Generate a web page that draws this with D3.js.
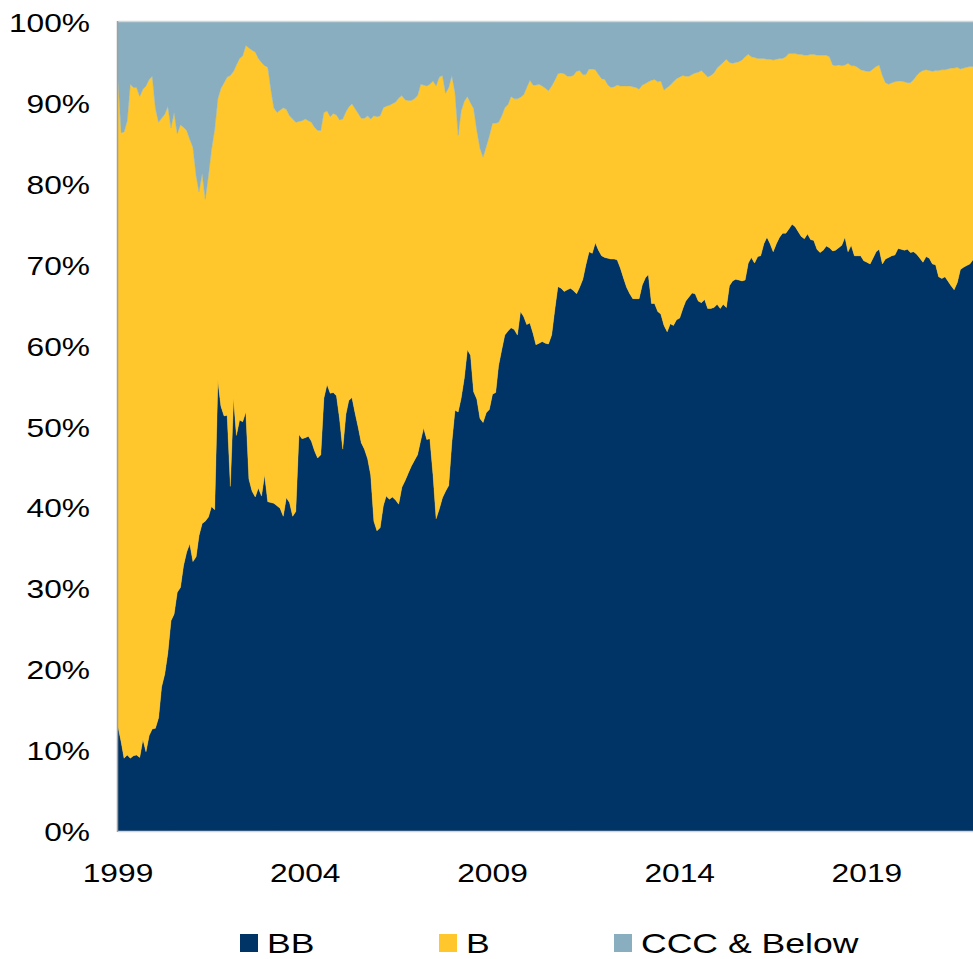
<!DOCTYPE html>
<meta charset="utf-8">
<head>
	<title>Rating mix</title>
</head>
<style>
	body { margin: 0; background: #fff; }
	text { font-family: "Liberation Sans", Arial, sans-serif; fill: #000; }
</style>
<body>
<svg width="973" height="959"></svg>
<script src="https://cdnjs.cloudflare.com/ajax/libs/d3/7.8.5/d3.min.js"></script>
<script>

// monthly shares (%), Jan 1999 .. Nov 2021, one row per year
var firstMonth = new Date(1999, 0, 1);

var bbShare = [
	12.9, 11.0, 9.0, 9.4, 9.0, 9.3, 9.4, 9.1, 11.3, 9.8, 11.8, 12.6,
	12.7, 14.0, 17.8, 19.4, 22.0, 26.0, 26.8, 29.5, 30.1, 32.8, 34.5, 35.5,
	33.3, 33.9, 36.5, 38.0, 38.3, 38.8, 40.1, 39.7, 55.7, 52.5, 51.3, 51.4,
	42.6, 53.5, 48.9, 50.8, 50.6, 51.8, 43.5, 42.0, 41.3, 42.4, 41.4, 44.0,
	40.7, 40.6, 40.5, 40.2, 39.9, 38.9, 41.2, 40.6, 38.9, 39.5, 49.0, 48.5,
	48.6, 48.8, 48.2, 47.0, 46.1, 46.5, 53.5, 55.2, 54.1, 54.2, 53.8, 51.0,
	47.2, 51.5, 53.2, 53.6, 51.7, 49.9, 48.0, 47.2, 46.0, 44.0, 38.3, 37.1,
	37.5, 40.2, 41.4, 41.0, 41.3, 40.9, 40.4, 42.5, 43.3, 44.2, 45.1, 45.8,
	46.5, 48.3, 49.8, 48.4, 48.5, 44.0, 38.6, 39.8, 41.2, 42.0, 42.7, 48.0,
	52.0, 51.8, 53.5, 56.0, 59.5, 58.8, 54.3, 53.4, 51.0, 50.5, 51.7, 52.1,
	54.0, 54.2, 57.5, 59.5, 61.3, 61.8, 62.2, 62.0, 61.3, 64.2, 63.6, 62.6,
	62.8, 61.5, 60.1, 60.3, 60.5, 60.3, 60.2, 61.3, 64.5, 67.3, 67.1, 66.7,
	66.9, 67.1, 66.8, 66.4, 67.2, 68.2, 70.0, 71.6, 71.4, 72.7, 71.8, 71.1,
	70.9, 70.8, 70.7, 70.7, 70.6, 69.6, 68.4, 67.2, 66.4, 65.8, 65.8, 65.8,
	67.5, 68.4, 68.8, 65.2, 65.2, 64.2, 63.9, 62.5, 61.7, 62.7, 62.5, 63.2,
	63.4, 64.6, 65.5, 66.0, 66.5, 66.4, 65.5, 65.3, 65.7, 64.6, 64.6, 64.7,
	65.1, 64.6, 65.1, 64.7, 67.4, 68.0, 68.2, 68.1, 68.0, 68.1, 70.2, 70.9,
	70.2, 71.0, 71.1, 72.6, 73.4, 72.6, 71.6, 72.6, 73.4, 73.9, 73.9, 74.4,
	75.0, 74.7, 74.1, 73.5, 73.2, 73.8, 73.1, 73.0, 71.9, 71.5, 71.8, 72.3,
	72.1, 71.7, 71.8, 72.1, 72.4, 73.4, 71.6, 72.4, 71.1, 71.1, 71.1, 70.5,
	70.3, 70.1, 70.8, 71.6, 71.9, 70.1, 70.7, 70.9, 71.1, 71.2, 72.0, 71.9,
	71.8, 71.9, 71.5, 71.6, 71.3, 70.8, 70.3, 71.0, 70.8, 70.1, 70.0, 68.5,
	68.3, 68.5, 68.0, 67.4, 66.9, 67.8, 69.4, 69.7, 69.9, 70.1, 70.6
];

var bShare = [
	79.9, 75.3, 77.4, 78.4, 83.3, 82.6, 82.5, 81.7, 80.4, 82.3, 81.1, 80.7,
	76.6, 73.6, 70.3, 69.2, 67.6, 60.9, 62.0, 56.7, 57.2, 54.2, 52.1, 50.0,
	51.2, 47.1, 42.5, 43.3, 39.8, 42.2, 44.1, 47.0, 34.8, 39.3, 41.2, 41.8,
	50.8, 40.4, 45.8, 44.7, 45.2, 45.3, 53.3, 54.5, 55.0, 53.1, 53.6, 50.6,
	53.7, 51.0, 48.9, 48.6, 49.2, 50.5, 48.0, 47.8, 49.1, 48.1, 38.7, 39.3,
	39.4, 39.0, 39.4, 40.0, 40.5, 40.1, 35.3, 33.8, 34.2, 34.5, 34.7, 36.9,
	40.8, 37.4, 36.3, 36.3, 37.6, 38.8, 40.1, 40.9, 42.4, 44.0, 50.1, 51.2,
	50.9, 49.2, 48.2, 48.7, 48.6, 49.2, 50.2, 48.4, 47.1, 46.1, 45.2, 44.7,
	44.4, 44.0, 42.4, 43.7, 43.8, 48.7, 53.5, 53.4, 52.2, 49.2, 49.2, 45.4,
	39.3, 34.2, 35.5, 34.2, 31.3, 31.2, 35.0, 33.2, 33.4, 32.8, 32.9, 33.8,
	33.5, 33.3, 30.1, 28.9, 28.1, 28.0, 28.6, 28.5, 29.2, 26.5, 27.4, 29.3,
	30.0, 30.7, 32.1, 32.0, 31.6, 31.5, 31.3, 30.8, 28.3, 26.3, 26.6, 26.9,
	26.4, 26.2, 26.6, 27.5, 26.8, 25.3, 23.5, 22.6, 22.8, 21.4, 21.7, 21.9,
	22.0, 21.4, 21.2, 21.3, 21.6, 22.5, 23.7, 24.9, 25.7, 26.2, 26.1, 25.9,
	24.7, 24.0, 23.8, 27.6, 27.7, 28.4, 28.8, 29.1, 30.2, 29.5, 30.1, 29.8,
	29.8, 28.8, 27.8, 27.3, 27.0, 27.3, 28.3, 28.7, 27.9, 28.6, 28.8, 29.0,
	29.2, 30.1, 29.9, 30.7, 27.6, 26.9, 26.8, 27.0, 27.3, 27.6, 25.8, 24.8,
	25.4, 24.5, 24.4, 22.9, 22.0, 22.8, 23.7, 22.8, 22.1, 21.6, 21.8, 21.7,
	21.1, 21.4, 21.9, 22.5, 22.7, 22.1, 22.9, 23.0, 24.0, 24.4, 24.1, 23.6,
	23.6, 23.0, 22.8, 22.6, 22.2, 21.3, 23.3, 22.2, 23.5, 23.3, 23.0, 23.5,
	23.6, 23.8, 23.4, 22.9, 22.8, 23.3, 21.8, 21.4, 21.4, 21.4, 20.7, 20.8,
	20.8, 20.6, 21.0, 21.3, 22.1, 23.0, 23.7, 23.1, 23.2, 23.8, 24.0, 25.5,
	25.8, 25.6, 26.2, 26.9, 27.4, 26.6, 24.8, 24.6, 24.5, 24.4, 23.9
];

var cccShare = [
	7.2, 13.7, 13.6, 12.2, 7.7, 8.1, 8.1, 9.2, 8.3, 7.9, 7.1, 6.7,
	10.7, 12.4, 11.9, 11.4, 10.4, 13.1, 11.2, 13.8, 12.7, 13.0, 13.4, 14.5,
	15.5, 19.0, 21.0, 18.7, 21.9, 19.0, 15.8, 13.3, 9.5, 8.2, 7.5, 6.8,
	6.6, 6.1, 5.3, 4.5, 4.2, 2.9, 3.2, 3.5, 3.7, 4.5, 5.0, 5.4,
	5.6, 8.4, 10.6, 11.2, 10.9, 10.6, 10.8, 11.6, 12.0, 12.4, 12.3, 12.2,
	12.0, 12.2, 12.4, 13.0, 13.4, 13.4, 11.2, 11.0, 11.7, 11.3, 11.5, 12.1,
	12.0, 11.1, 10.5, 10.1, 10.7, 11.3, 11.9, 11.9, 11.6, 12.0, 11.6, 11.7,
	11.6, 10.6, 10.4, 10.3, 10.1, 9.9, 9.4, 9.1, 9.6, 9.7, 9.7, 9.5,
	9.1, 7.7, 7.8, 7.9, 7.7, 7.3, 7.9, 6.8, 6.6, 8.8, 8.1, 6.6,
	8.7, 14.0, 11.0, 9.8, 9.2, 10.0, 10.7, 13.4, 15.6, 16.7, 15.4, 14.1,
	12.5, 12.5, 12.4, 11.6, 10.6, 10.2, 9.2, 9.5, 9.5, 9.3, 9.0, 8.1,
	7.2, 7.8, 7.8, 7.7, 7.9, 8.2, 8.5, 7.9, 7.2, 6.4, 6.3, 6.4,
	6.7, 6.7, 6.6, 6.1, 6.0, 6.5, 6.5, 5.8, 5.8, 5.9, 6.5, 7.0,
	7.1, 7.8, 8.1, 8.0, 7.8, 7.9, 7.9, 7.9, 7.9, 8.0, 8.1, 8.3,
	7.8, 7.6, 7.4, 7.2, 7.1, 7.4, 7.3, 8.4, 8.1, 7.8, 7.4, 7.0,
	6.8, 6.6, 6.7, 6.7, 6.5, 6.3, 6.2, 6.0, 6.4, 6.8, 6.6, 6.3,
	5.7, 5.3, 5.0, 4.6, 5.0, 5.1, 5.0, 4.9, 4.7, 4.3, 4.0, 4.3,
	4.4, 4.5, 4.5, 4.5, 4.6, 4.6, 4.7, 4.6, 4.5, 4.5, 4.3, 3.9,
	3.9, 3.9, 4.0, 4.0, 4.1, 4.1, 4.0, 4.0, 4.1, 4.1, 4.1, 4.1,
	4.3, 5.3, 5.4, 5.3, 5.4, 5.3, 5.1, 5.4, 5.4, 5.6, 5.9, 6.0,
	6.1, 6.1, 5.8, 5.5, 5.3, 6.6, 7.5, 7.7, 7.5, 7.4, 7.3, 7.3,
	7.4, 7.5, 7.5, 7.1, 6.6, 6.2, 6.0, 5.9, 6.0, 6.1, 6.0, 6.0,
	5.9, 5.9, 5.8, 5.7, 5.7, 5.6, 5.8, 5.7, 5.6, 5.5, 5.5
];

var seriesNames = ["BB", "B", "CCC & Below"];
var seriesColors = ["#003366", "#ffc72c", "#89aebf"];
var yearLabels = [1999, 2004, 2009, 2014, 2019];
var pctTicks = [0, 10, 20, 30, 40, 50, 60, 70, 80, 90, 100];

var svg = d3.select("svg"),
	margin = {top: 22, right: 0, bottom: 128, left: 118},
	width = svg.attr("width") - margin.left - margin.right,
	height = svg.attr("height") - margin.top - margin.bottom;

var g = svg.append("g")
	.attr("transform", "translate(" + margin.left + "," + margin.top + ")");

// table the stack layout needs
var rows = bbShare.map(function(v, i) {
	var r = {date: d3.timeMonth.offset(firstMonth, i)};
	r[seriesNames[0]] = v;
	r[seriesNames[1]] = bShare[i];
	r[seriesNames[2]] = cccShare[i];
	return r;
});

var x = d3.scaleTime()
	.domain(d3.extent(rows, function(d) { return d.date; }))
	.range([0, width]);

var y = d3.scaleLinear()
	.domain([0, 100])
	.range([height, 0]);

var color = d3.scaleOrdinal().domain(seriesNames).range(seriesColors);

var stacked = d3.stack()
	.keys(seriesNames)
	.offset(d3.stackOffsetExpand)(rows);

var area = d3.area()
	.x(function(d) { return x(d.data.date); })
	.y0(function(d) { return y(d[0] * 100); })
	.y1(function(d) { return y(d[1] * 100); });

g.selectAll(".layer")
	.data(stacked)
	.enter().append("path")
	.attr("class", "layer")
	.attr("fill", function(d) { return color(d.key); })
	.attr("stroke", function(d) { return color(d.key); })
	.attr("stroke-width", 0.4)
	.attr("d", area);

// frame
g.append("line")
	.attr("x1", 0).attr("x2", width)
	.attr("y1", -0.5).attr("y2", -0.5)
	.attr("stroke", "#d4d4d4").attr("stroke-width", 1.5);
g.append("line")
	.attr("x1", 0).attr("x2", width)
	.attr("y1", height + 0.5).attr("y2", height + 0.5)
	.attr("stroke", "#d4d4d4").attr("stroke-width", 1.5);
g.append("line")
	.attr("x1", -0.5).attr("x2", -0.5)
	.attr("y1", -1).attr("y2", height + 1)
	.attr("stroke", "#a0a0a0").attr("stroke-width", 1.5);

// y labels (source text is stretched sideways)
g.selectAll(".ylab")
	.data(pctTicks)
	.enter().append("text")
	.attr("class", "ylab")
	.attr("transform", function(d) { return "translate(-28," + (y(d) + 10) + ") scale(1.22,1)"; })
	.attr("text-anchor", "end")
	.style("font-size", "26px")
	.text(function(d) { return d + "%"; });

// x labels
g.selectAll(".xlab")
	.data(yearLabels)
	.enter().append("text")
	.attr("class", "xlab")
	.attr("transform", function(d) { return "translate(" + x(new Date(d, 0, 1)) + "," + (height + 51) + ") scale(1.22,1)"; })
	.attr("text-anchor", "middle")
	.style("font-size", "26px")
	.text(function(d) { return d; });

// legend
var legendX = [240, 439, 614];
var legend = svg.selectAll(".legend")
	.data(seriesNames)
	.enter().append("g")
	.attr("class", "legend")
	.attr("transform", function(d, i) { return "translate(" + legendX[i] + ",934)"; });

legend.append("rect")
	.attr("width", 18)
	.attr("height", 18)
	.attr("fill", function(d) { return color(d); });

legend.append("text")
	.attr("transform", "translate(27,19) scale(1.27,1)")
	.style("font-size", "28px")
	.text(function(d) { return d; });

</script>
</body>
</html>
